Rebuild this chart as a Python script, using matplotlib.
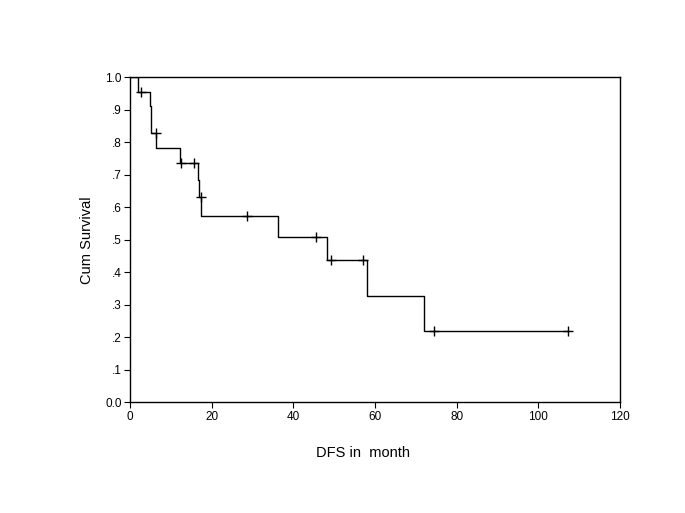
import matplotlib
matplotlib.use("Agg")
import matplotlib.pyplot as plt
import numpy as np

plt.rcParams['font.family'] = ['Liberation Sans', 'DejaVu Sans']

# Kaplan-Meier estimate
event_months = [1.9, 4.9, 5.1, 6.4, 12.2, 16.6, 16.9, 17.5, 36.2, 48.3, 58.1, 72.1]
cum_survival = [0.956, 0.913, 0.830, 0.782, 0.736, 0.685, 0.631, 0.575, 0.510, 0.4375, 0.329, 0.220]
censored_months = [2.6, 6.3, 12.4, 15.7, 17.4, 28.6, 45.6, 49.2, 57.1, 74.5, 107.3]

x_ticks = [0, 20, 40, 60, 80, 100, 120]
y_ticks = [0.0, 0.1, 0.2, 0.3, 0.4, 0.5, 0.6, 0.7, 0.8, 0.9, 1.0]
y_tick_labels = ["0.0", ".1", ".2", ".3", ".4", ".5", ".6", ".7", ".8", ".9", "1.0"]

step_x = np.array([0] + event_months + [max(censored_months)])
step_y = np.array([1.0] + cum_survival + [cum_survival[-1]])

# survival level at each censoring time
idx = np.searchsorted(step_x, censored_months, side='right') - 1
censored_y = step_y[idx]

fig = plt.figure(figsize=(6.85, 5.13), dpi=100)
ax = fig.add_axes([0.1898, 0.2154, 0.7153, 0.6339])

ax.step(step_x, step_y, where='post', color='black', lw=1.0)
ax.plot(censored_months, censored_y, linestyle='none', marker='+',
        color='black', markersize=7, markeredgewidth=1.0)

ax.set_xlim(0, 120)
ax.set_ylim(0, 1.0)
ax.set_xticks(x_ticks)
ax.set_yticks(y_ticks)
ax.set_yticklabels(y_tick_labels)
ax.tick_params(direction='out', length=4, width=0.8, labelsize=8.5, pad=2)

for s in ax.spines.values():
    s.set_linewidth(1.0)
    s.set_color('black')

ax.set_xlabel('DFS in  month', fontsize=10.5, labelpad=17, x=0.475)
ax.set_ylabel('Cum Survival', fontsize=10.5, labelpad=8)

plt.savefig("out.png", dpi=100)
